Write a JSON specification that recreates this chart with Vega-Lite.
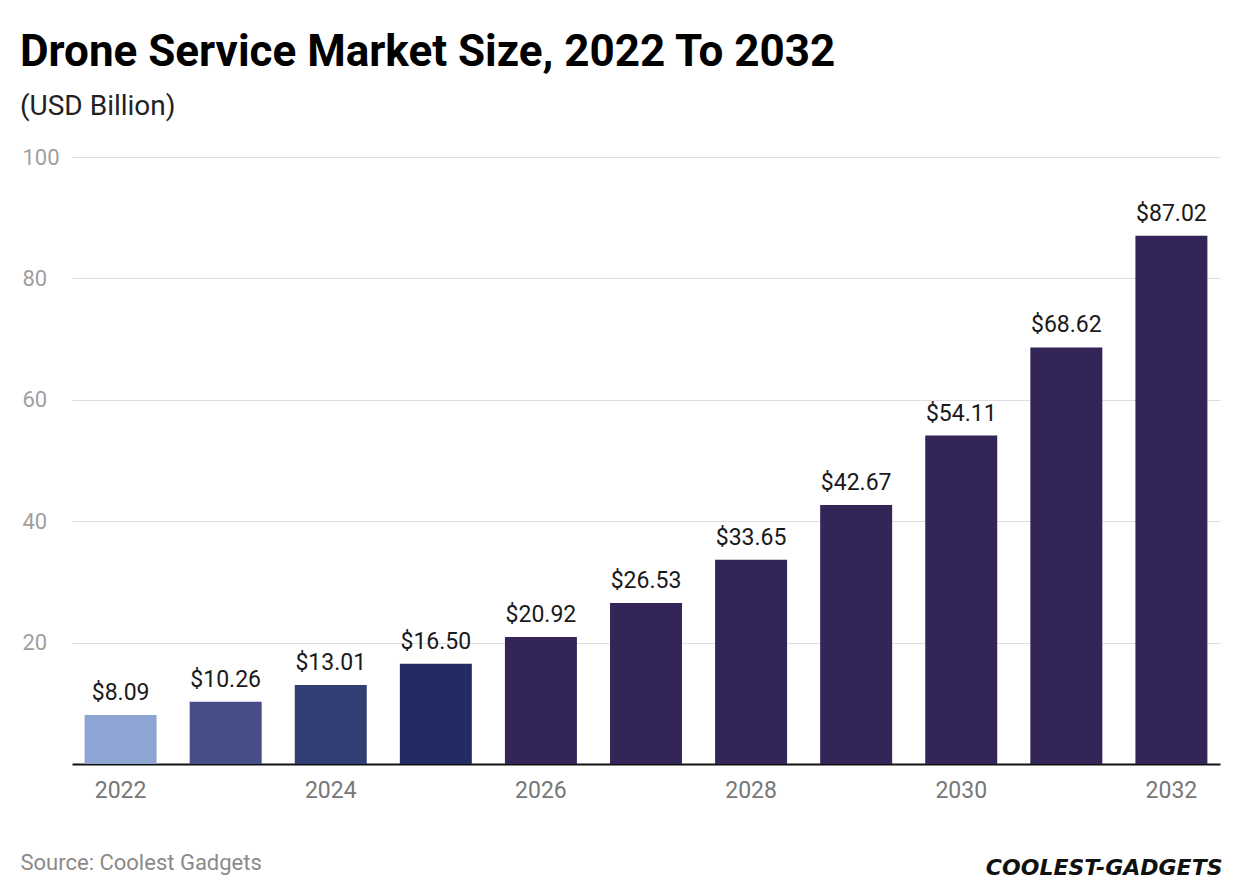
{
  "$schema": "https://vega.github.io/schema/vega-lite/v6.json",
  "autosize": {"type": "none"},
  "padding": {"left": 72, "top": 157, "right": 20, "bottom": 132},
  "width": 1148,
  "height": 607,
  "background": "white",
  "title": {
    "text": "Drone Service Market Size, 2022 To 2032",
    "subtitle": "(USD Billion)",
    "anchor": "start",
    "frame": "group",
    "dx": -52,
    "offset": 25,
    "font": "Roboto",
    "fontSize": 44,
    "fontWeight": "bold",
    "color": "#000000",
    "subtitleFont": "Roboto",
    "subtitleFontSize": 28,
    "subtitleColor": "#222222",
    "subtitlePadding": 18
  },
  "data": {
    "values": [
      {"year": "2022", "size": 8.09},
      {"year": "2023", "size": 10.26},
      {"year": "2024", "size": 13.01},
      {"year": "2025", "size": 16.50},
      {"year": "2026", "size": 20.92},
      {"year": "2027", "size": 26.53},
      {"year": "2028", "size": 33.65},
      {"year": "2029", "size": 42.67},
      {"year": "2030", "size": 54.11},
      {"year": "2031", "size": 68.62},
      {"year": "2032", "size": 87.02}
    ]
  },
  "encoding": {
    "x": {
      "field": "year",
      "type": "nominal",
      "sort": null,
      "scale": {"paddingInner": 0.315, "paddingOuter": 0.12},
      "axis": {
        "values": ["2022", "2024", "2026", "2028", "2030", "2032"],
        "labelAngle": 0,
        "labelFont": "Roboto",
        "labelFontSize": 23,
        "labelColor": "#777777",
        "labelPadding": 15,
        "ticks": false,
        "domainColor": "#111111",
        "domainWidth": 2,
        "title": "COOLEST-GADGETS",
        "titleFont": "DejaVu Sans",
        "titleFontSize": 22,
        "titleFontWeight": "bold",
        "titleFontStyle": "italic",
        "titleColor": "#111111",
        "titleAlign": "right",
        "titleAnchor": "end",
        "titleBaseline": "alphabetic",
        "titleX": 1150,
        "titleY": 110
      }
    },
    "y": {
      "field": "size",
      "type": "quantitative",
      "scale": {"domain": [0, 100]},
      "axis": {
        "values": [20, 40, 60, 80, 100],
        "labelFont": "Roboto",
        "labelFontSize": 22,
        "labelColor": "#a0a0a0",
        "labelAlign": "left",
        "labelBaseline": "middle",
        "labelPadding": 50,
        "ticks": false,
        "domain": false,
        "gridColor": "#dedede",
        "gridWidth": 1,
        "title": "Source: Coolest Gadgets",
        "titleFont": "Roboto",
        "titleFontSize": 22,
        "titleFontWeight": "normal",
        "titleColor": "#8a8a8a",
        "titleAngle": 0,
        "titleAlign": "left",
        "titleBaseline": "alphabetic",
        "titleX": -52,
        "titleY": 712
      }
    }
  },
  "layer": [
    {
      "mark": {"type": "bar"},
      "encoding": {
        "color": {
          "field": "year",
          "type": "nominal",
          "legend": null,
          "scale": {
            "domain": ["2022", "2023", "2024", "2025", "2026", "2027", "2028", "2029", "2030", "2031", "2032"],
            "range": ["#8ea4d2", "#474e87", "#313e74", "#242b63", "#332558", "#332558", "#332558", "#332558", "#332558", "#332558", "#332558"]
          }
        }
      }
    },
    {
      "mark": {
        "type": "text",
        "baseline": "alphabetic",
        "dy": -15,
        "font": "Roboto",
        "fontSize": 23,
        "color": "#1a1a1a"
      },
      "encoding": {
        "text": {"field": "size", "type": "quantitative", "format": "$.2f"}
      }
    }
  ],
  "config": {
    "view": {"stroke": null}
  }
}
